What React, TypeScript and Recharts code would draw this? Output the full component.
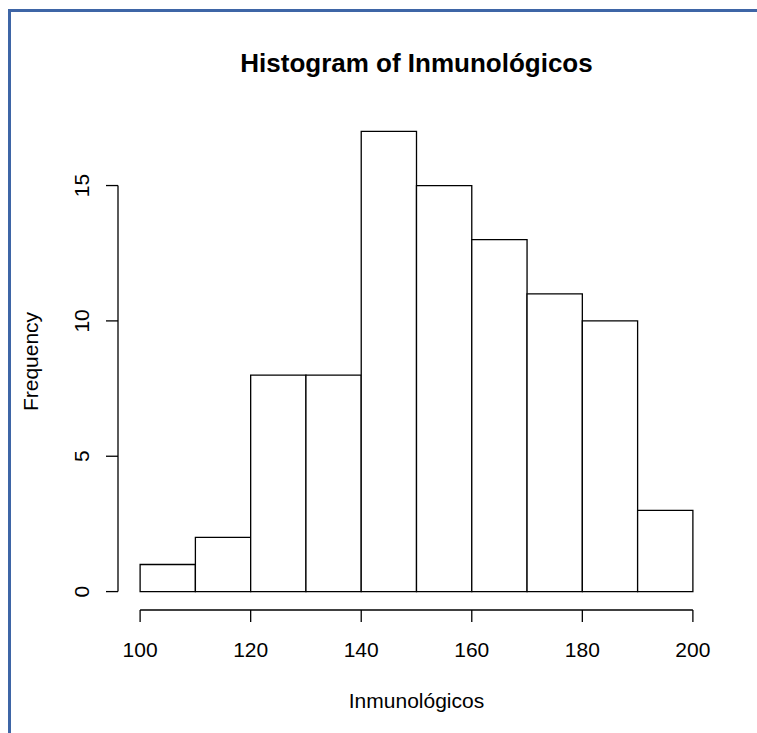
import React from "react";
import { ComposedChart, XAxis, YAxis, ReferenceLine, ReferenceArea } from "recharts";

// Histogram bins and frequencies
const binStarts = [100, 110, 120, 130, 140, 150, 160, 170, 180, 190];
const binEnds = [110, 120, 130, 140, 150, 160, 170, 180, 190, 200];
const counts = [1, 2, 8, 8, 17, 15, 13, 11, 10, 3];
const xTicks = [100, 120, 140, 160, 180, 200];
const yTicks = [0, 5, 10, 15];
const xDomain = [96, 204];
const yDomain = [-0.68, 17.68];

const data = binStarts.map((s, i) => ({ start: s, end: binEnds[i], count: counts[i] }));

const FONT = '"Liberation Sans", Arial, Helvetica, sans-serif';

const YTick = (props: any) => {
  const { x, y, payload } = props;
  const tx = x - 16.5;
  return (
    <text
      x={tx}
      y={y}
      transform={`rotate(-90, ${tx}, ${y})`}
      textAnchor="middle"
      fontSize={21}
      fontFamily={FONT}
      fill="#000"
    >
      {payload.value}
    </text>
  );
};

export default function App() {
  return (
    <div style={{ position: "absolute", left: 0, top: 0, width: 757, height: 733, background: "#fff" }}>
      <div
        style={{
          position: "absolute",
          left: 8,
          top: 9,
          width: 757 - 8,
          height: 733 - 9,
          borderTop: "3px solid #3e65a6",
          borderLeft: "3px solid #3e65a6",
          boxSizing: "border-box",
        }}
      />
      <div style={{ position: "absolute", left: 0, top: 0 }}>
        <ComposedChart
          width={757}
          height={733}
          data={data}
          margin={{ top: 113, right: 42, bottom: 23, left: 58 }}
        >
          <XAxis
            dataKey="start"
            type="number"
            domain={xDomain}
            ticks={xTicks}
            allowDataOverflow
            height={100}
            axisLine={false}
            tickLine={{ stroke: "#000", strokeWidth: 1.3 }}
            tickSize={12}
            tickMargin={20}
            tick={{ fontSize: 21, fill: "#000", fontFamily: FONT }}
            interval={0}
            label={{
              value: "Inmunológicos",
              position: "insideBottom",
              offset: 2,
              fontSize: 21,
              fill: "#000",
              fontFamily: FONT,
            }}
          />
          <YAxis
            dataKey="count"
            type="number"
            domain={yDomain}
            ticks={yTicks}
            allowDataOverflow
            width={60}
            axisLine={false}
            tickLine={{ stroke: "#000", strokeWidth: 1.3 }}
            tickSize={12}
            tickMargin={0}
            tick={<YTick />}
            interval={0}
          />
          {data.map((d, i) => (
            <ReferenceArea
              key={i}
              x1={d.start}
              x2={d.end}
              y1={0}
              y2={d.count}
              fill="#fff"
              fillOpacity={1}
              stroke="#000"
              strokeWidth={1.3}
              ifOverflow="visible"
            />
          ))}
          <ReferenceLine
            segment={[{ x: xTicks[0], y: yDomain[0] }, { x: xTicks[xTicks.length - 1], y: yDomain[0] }]}
            stroke="#000"
            strokeWidth={1.3}
            ifOverflow="visible"
          />
          <ReferenceLine
            segment={[{ x: xDomain[0], y: yTicks[0] }, { x: xDomain[0], y: yTicks[yTicks.length - 1] }]}
            stroke="#000"
            strokeWidth={1.3}
            ifOverflow="visible"
          />
        </ComposedChart>
      </div>
      <svg width={757} height={733} style={{ position: "absolute", left: 0, top: 0, pointerEvents: "none" }}>
        <text x={416.5} y={72} textAnchor="middle" fontSize={26} fontWeight="bold" fontFamily={FONT} fill="#000">
          Histogram of Inmunológicos
        </text>
        <text
          x={38}
          y={361.5}
          transform="rotate(-90, 38, 361.5)"
          textAnchor="middle"
          fontSize={21}
          fontFamily={FONT}
          fill="#000"
        >
          Frequency
        </text>
      </svg>
    </div>
  );
}
